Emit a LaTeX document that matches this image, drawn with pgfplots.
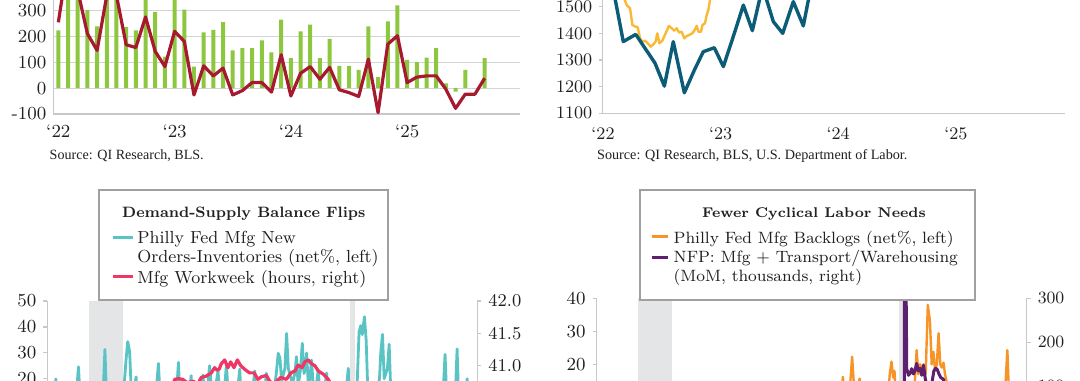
\documentclass[border=0pt]{standalone}
\usepackage{fontspec}
\newfontfamily\srcfont{Liberation Serif}
\usepackage{pgfplots}
\pgfplotsset{compat=1.18}
\definecolor{barg}{RGB}{141,198,63}
\definecolor{dred}{RGB}{166,25,46}
\definecolor{dteal}{RGB}{12,92,120}
\definecolor{cyel}{RGB}{250,185,50}
\definecolor{cturq}{RGB}{90,196,196}
\definecolor{cpink}{RGB}{238,55,100}
\definecolor{corange}{RGB}{247,148,40}
\definecolor{cpurple}{RGB}{94,31,112}
\definecolor{recgray}{RGB}{228,229,231}
\definecolor{axgray}{RGB}{200,200,200}
\definecolor{gridgray}{RGB}{212,212,212}
\definecolor{legb}{RGB}{160,160,160}
\definecolor{txt}{RGB}{35,31,32}
\pgfplotsset{every axis/.append style={
  /pgf/number format/assume math mode=true,
  /pgf/number format/1000 sep={},
  scale only axis, anchor=south west,
  tick label style={text=txt},
}}
\newcommand{\tf}[1]{\fontsize{#1}{#1}\selectfont}
\begin{document}
\begin{tikzpicture}
\useasboundingbox (0pt,0pt) rectangle (540pt,190pt);
\clip (0pt,0pt) rectangle (540pt,190pt);

% ---------- top left: bars + line ----------
\begin{axis}[
  at={(26.65pt,133pt)}, width=233.35pt, height=77.25pt,
  xmin=-0.52, xmax=47.65, ymin=-100, ymax=500,
  axis lines*=left,
  axis line style={axgray, line width=0.7pt},
  ymajorgrids, grid style={gridgray, line width=0.5pt},
  ytick={-100,0,100,200,300},
  xtick={0,12,24,36}, xticklabels={‘22,‘23,‘24,‘25},
  major tick length=0pt,
  tick label style={font=\tf{9.2}},
  xticklabel style={yshift=-1.8pt},
]
\addplot[ybar, bar width=2pt, fill=barg, draw=none] coordinates {
(0,225)(1,450)(2,420)(3,303)(4,240)(5,390)(6,400)(7,238)(8,225)(9,360)(10,296)(11,123)
(12,380)(13,305)(14,84)(15,217)(16,227)(17,257)(18,147)(19,156)(20,156)(21,186)(22,139)(23,266)
(24,117)(25,221)(26,247)(27,117)(28,192)(29,87)(30,87)(31,71)(32,240)(33,43)(34,260)(35,322)
(36,110)(37,101)(38,119)(39,156)(40,19)(41,-13)(42,71)(43,0)(44,117)};
\addplot[dred, line width=1.6pt, line join=round] coordinates {
(0,256)(1,500)(2,380)(3,212)(4,147)(5,360)(6,360)(7,169)(8,158)(9,277)(10,143)(11,84)
(12,221)(13,182)(14,-26)(15,87)(16,48)(17,78)(18,-26)(19,-9)(20,22)(21,22)(22,-15)(23,130)
(24,-30)(25,58)(26,84)(27,35)(28,81)(29,-6)(30,-17)(31,-32)(32,113)(33,-95)(34,171)(35,204)
(36,22)(37,43)(38,48)(39,48)(40,-4)(41,-78)(42,-23)(43,-23)(44,39)};
\end{axis}
\node[anchor=base west, inner sep=0pt, text=txt, font=\srcfont\tf{7.04}] at (24.65pt,110.35pt) {Source: QI Research, BLS.};

% ---------- top right: two lines ----------
\begin{axis}[
  at={(301.15pt,133.35pt)}, width=231.35pt, height=79.95pt,
  xmin=-0.07, xmax=47.14, ymin=1100, ymax=1700,
  axis lines*=left,
  axis line style={axgray, line width=0.7pt},
  ytick={1100,1200,1300,1400,1500},
  xtick={0,12,24,36}, xticklabels={‘22,‘23,‘24,‘25},
  tick align=outside, major tick length=1.5pt,
  ytick style={axgray, line width=0.7pt},
  xtick style={draw=none},
  tick label style={font=\tf{8.8}},
  xticklabel style={yshift=-1.8pt},
]
\addplot[cyel, line width=1.2pt, line join=round] coordinates {
(1.85,1560)(2.42,1506)(2.76,1494)(3.0,1431)(3.33,1425)(3.54,1423)(3.78,1381)(4.01,1369)
(4.29,1372)(4.56,1363)(4.87,1350)(5.14,1359)(5.37,1369)(5.54,1400)(5.75,1363)(6.05,1372)
(6.39,1400)(6.73,1428)(7.01,1419)(7.28,1410)(7.52,1419)(7.76,1403)(8.03,1406)(8.3,1381)
(8.54,1390)(8.81,1394)(9.11,1400)(9.32,1410)(9.56,1428)(9.73,1406)(10.0,1406)(10.14,1431)
(10.41,1438)(10.58,1469)(10.75,1488)(10.92,1525)(11.1,1560)(11.5,1620)};
\addplot[dteal, line width=1.7pt, line join=round] coordinates {
(0,1640)(1.05,1565)(2.07,1369)(3.34,1396)(4.29,1344)(5.31,1288)(6.26,1202)(7.17,1369)
(8.30,1177)(9.32,1262)(10.23,1331)(11.36,1346)(12.28,1275)(13.40,1400)(14.32,1506)(15.24,1410)
(16.28,1575)(17.38,1444)(18.34,1400)(19.42,1519)(20.44,1428)(21.46,1620)(23.5,1640)(25,1670)
(27,1650)(30,1680)(33,1660)(36,1670)(39,1650)(42,1680)(45,1660)};
\end{axis}
\node[anchor=base west, inner sep=0pt, text=txt, font=\srcfont\tf{7.1}] at (298.35pt,110.35pt) {Source: QI Research, BLS, U.S. Department of Labor.};

% ---------- bottom left ----------
\begin{axis}[
  at={(23.65pt,-90pt)}, width=215pt, height=129.5pt,
  xmin=2006, xmax=2026, ymin=-50, ymax=50,
  axis y line*=left, axis x line=none,
  axis line style={axgray, line width=0.7pt},
  ytick={20,30,40,50},
  tick align=outside, major tick length=2pt,
  ytick style={axgray, line width=0.7pt},
  tick label style={font=\tf{9.2}},
]
\fill[recgray] (axis cs:2007.917,-50) rectangle (axis cs:2009.5,50);
\fill[recgray] (axis cs:2020.083,-50) rectangle (axis cs:2020.33,50);
\addplot[cturq, line width=1.4pt, line join=round] coordinates {
(2006.00,12)(2006.17,8)(2006.33,14)(2006.40,19.9)(2006.48,10)(2006.75,5)(2007.0,9)(2007.25,2)
(2007.37,16)(2007.45,24.6)(2007.53,12)(2007.75,3)(2008.0,-12)(2008.25,-4)(2008.5,5)(2008.6,15)
(2008.68,31.3)(2008.75,14)(2008.92,-35)(2009.08,-20)(2009.33,2)(2009.58,18)(2009.66,27)(2009.74,34.3)
(2009.83,30.5)(2009.91,14)(2010.05,17)(2010.13,20.7)(2010.21,8)(2010.5,-2)(2010.75,6)(2011.0,10)
(2011.08,17)(2011.17,25.9)(2011.25,12)(2011.5,-8)(2011.75,0)(2011.92,10)(2012.02,16)(2012.10,26.3)
(2012.18,10)(2012.42,-3)(2012.6,12)(2012.69,21.2)(2012.77,8)(2013.0,5)(2013.16,17)(2013.24,21.4)
(2013.32,13)(2013.47,18)(2013.55,25.0)(2013.63,17)(2013.8,15)(2013.94,23.2)(2014.02,14)(2014.25,17)
(2014.33,25.3)(2014.41,15)(2014.6,12)(2014.87,17)(2014.95,23.7)(2015.03,10)(2015.25,2)(2015.45,10)
(2015.57,17)(2015.65,23)(2015.73,10)(2015.95,5)(2016.11,15)(2016.19,22.1)(2016.27,9)(2016.5,12)
(2016.65,22)(2016.74,29.8)(2016.82,28)(2016.9,19)(2017.05,24)(2017.13,37.5)(2017.21,24)(2017.4,18)
(2017.51,22)(2017.59,28.5)(2017.67,17)(2017.78,24)(2017.86,33.7)(2017.94,22)(2018.02,24)(2018.06,29.9)
(2018.14,18)(2018.21,20)(2018.29,27.2)(2018.37,17)(2018.52,18)(2018.60,23.4)(2018.68,14)(2018.91,17)
(2018.99,22.2)(2019.07,8)(2019.4,-2)(2019.75,5)(2019.92,17)(2020.0,24.0)(2020.08,5)(2020.25,-45)
(2020.42,20)(2020.5,38)(2020.58,40.5)(2020.65,37)(2020.75,43.9)(2020.83,35)(2020.92,12)(2021.1,18)
(2021.25,12)(2021.45,20)(2021.51,30)(2021.59,37.1)(2021.67,20)(2021.82,24)(2021.90,33.3)(2021.98,14)
(2022.3,-10)(2022.7,-20)(2023.1,-15)(2023.5,-5)(2023.9,2)(2024.2,8)(2024.42,16)(2024.5,29.4)
(2024.58,12)(2024.8,-5)(2024.98,14)(2025.06,31.5)(2025.14,10)(2025.3,-10)(2025.45,14)(2025.53,20)
(2025.61,5)(2025.7,-3)};
\end{axis}
\begin{axis}[
  at={(23.65pt,-90pt)}, width=215pt, height=129.5pt,
  xmin=2006, xmax=2026, ymin=38, ymax=42,
  axis y line*=right, axis x line=none,
  axis line style={axgray, line width=0.7pt},
  ytick={41,41.5,42},
  tick align=outside, major tick length=2pt,
  ytick style={axgray, line width=0.7pt},
  tick label style={font=\tf{9}},
  yticklabel style={/pgf/number format/.cd, fixed, fixed zerofill, precision=1},
]
\addplot[cpink, line width=1.6pt, line join=round] coordinates {
(2006.0,40.5)(2006.5,40.6)(2007.0,40.4)(2007.5,40.6)(2008.0,40.4)(2008.5,40.0)(2009.0,39.4)(2009.4,39.2)
(2009.8,39.8)(2010.3,40.3)(2010.8,40.4)(2011.3,40.6)(2011.7,40.5)(2011.92,40.79)(2012.1,40.8)(2012.3,40.79)
(2012.5,40.74)(2012.8,40.76)(2013.0,40.72)(2013.16,40.82)(2013.39,40.84)(2013.63,40.89)(2013.78,40.97)(2013.9,40.93)
(2014.0,40.95)(2014.09,41.03)(2014.25,41.09)(2014.4,40.97)(2014.53,41.06)(2014.68,40.97)(2014.84,41.09)(2015.0,41.0)
(2015.2,40.94)(2015.41,40.89)(2015.62,40.89)(2015.8,40.79)(2015.96,40.83)(2016.19,40.85)(2016.35,40.76)(2016.5,40.72)
(2016.66,40.76)(2016.86,40.82)(2017.12,40.79)(2017.33,40.89)(2017.52,40.92)(2017.67,41.01)(2017.85,40.97)(2017.98,41.06)
(2018.14,41.09)(2018.29,41.03)(2018.45,41.0)(2018.6,40.92)(2018.84,40.87)(2019.07,40.79)(2019.3,40.65)(2019.6,40.6)
(2019.9,40.55)(2020.2,40.4)(2020.3,38.6)(2020.5,40.0)(2020.8,40.5)(2021.2,40.6)(2021.6,40.6)(2022.0,40.6)
(2022.5,40.5)(2023.0,40.3)(2023.5,40.2)(2024.0,40.1)(2024.5,40.2)(2025.0,40.2)(2025.6,40.1)};
\end{axis}

% ---------- bottom right ----------
\begin{axis}[
  at={(298.35pt,-91.15pt)}, width=215pt, height=132pt,
  xmin=2006, xmax=2026, ymin=-40, ymax=40,
  axis y line*=left, axis x line=none,
  axis line style={axgray, line width=0.7pt},
  ytick={20,30,40},
  tick align=outside, major tick length=2pt,
  ytick style={axgray, line width=0.7pt},
  tick label style={font=\tf{9.2}},
]
\fill[recgray] (axis cs:2007.917,-40) rectangle (axis cs:2009.5,40);
\fill[recgray] (axis cs:2020.083,-40) rectangle (axis cs:2020.33,40);
\addplot[corange, line width=1.2pt, line join=round] coordinates {
(2006.0,5)(2006.5,8)(2007.0,-2)(2007.5,3)(2008.0,-10)(2008.5,-15)(2009.0,-35)(2009.5,-20)
(2010.0,2)(2010.5,5)(2011.0,10)(2011.5,-5)(2012.0,3)(2012.5,-10)(2013.0,-5)(2013.5,4)
(2014.0,6)(2014.5,10)(2015.0,5)(2015.5,-2)(2016.0,-10)(2016.5,0)(2016.9,8)(2017.2,12)
(2017.37,10)(2017.45,16.2)(2017.53,9)(2017.7,12)(2017.8,15)(2017.88,22.3)(2017.96,14)(2018.1,12)
(2018.23,15.7)(2018.31,10)(2018.6,8)(2019.0,2)(2019.3,5)(2019.55,10)(2019.63,17)(2019.71,20.8)
(2019.79,16)(2019.85,18)(2019.93,8)(2020.1,3)(2020.25,-30)(2020.5,-5)(2020.7,8)(2020.8,15)
(2020.88,24.3)(2020.96,17)(2021.04,20)(2021.12,18)(2021.2,20)(2021.3,17)(2021.4,38)(2021.5,33)
(2021.58,20)(2021.66,23.8)(2021.74,18)(2021.82,20)(2021.9,29.4)(2021.98,20)(2022.05,19)(2022.13,20.5)
(2022.2,17)(2022.3,14)(2022.4,8)(2022.7,-5)(2023.0,-15)(2023.5,-10)(2024.0,-8)(2024.5,-5)
(2024.9,5)(2025.02,15)(2025.1,24.3)(2025.18,10)(2025.4,-5)(2025.6,0)};
\end{axis}
\begin{axis}[
  at={(298.35pt,-91.15pt)}, width=215pt, height=132pt,
  xmin=2006, xmax=2026, ymin=-300, ymax=300,
  axis y line*=right, axis x line=none,
  axis line style={axgray, line width=0.7pt},
  ytick={100,200,300},
  tick align=outside, major tick length=2pt,
  ytick style={axgray, line width=0.7pt},
  tick label style={font=\tf{8.6}},
]
\addplot[cpurple, line width=1.5pt, line join=round] coordinates {
(2006.0,20)(2006.5,-20)(2007.0,10)(2007.5,-30)(2008.0,-40)(2008.5,-80)(2008.9,-250)(2009.2,-260)
(2009.5,-120)(2009.9,-40)(2010.3,30)(2010.8,20)(2011.3,40)(2011.8,30)(2012.3,30)(2012.8,20)
(2013.3,25)(2013.8,30)(2014.3,40)(2014.8,45)(2015.3,30)(2015.8,20)(2016.3,15)(2016.8,20)
(2017.3,30)(2017.8,45)(2018.3,50)(2018.8,40)(2019.3,20)(2019.8,10)(2020.0,15)(2020.17,-30)
(2020.25,-1200)(2020.33,700)(2020.42,140)(2020.5,125)(2020.58,130)(2020.65,140)(2020.73,128)(2020.8,135)
(2020.88,152)(2020.96,135)(2021.04,141)(2021.12,125)(2021.2,148)(2021.28,118)(2021.36,100)(2021.44,105)
(2021.52,95)(2021.6,110)(2021.68,135)(2021.76,141)(2021.84,138)(2021.92,128)(2022.0,120)(2022.13,116)
(2022.2,95)(2022.3,70)(2022.6,60)(2023.0,30)(2023.5,10)(2024.0,5)(2024.5,-5)(2025.0,0)(2025.6,-10)};
\end{axis}

% ---------- legend boxes ----------
\draw[legb, line width=0.9pt, fill=white] (49.65pt,40pt) rectangle (194.15pt,95pt);
\node[anchor=base, inner sep=0pt, text=txt, font=\fontsize{7.5}{9}\bfseries\selectfont] at (121.9pt,81.35pt) {Demand-Supply Balance Flips};
\draw[cturq, line width=1.5pt] (56.5pt,71.4pt) -- (66.5pt,71.4pt);
\node[anchor=base west, inner sep=0pt, text=txt, font=\tf{8.75}] at (68.5pt,68.35pt) {Philly Fed Mfg New};
\node[anchor=base west, inner sep=0pt, text=txt, font=\tf{8.75}] at (68.5pt,58.65pt) {Orders-Inventories (net\%, left)};
\draw[cpink, line width=1.5pt] (56.5pt,51.5pt) -- (66.5pt,51.5pt);
\node[anchor=base west, inner sep=0pt, text=txt, font=\tf{8.75}] at (68.5pt,48.5pt) {Mfg Workweek (hours, right)};

\draw[legb, line width=0.9pt, fill=white] (320pt,40pt) rectangle (487.5pt,95pt);
\node[anchor=base, inner sep=0pt, text=txt, font=\fontsize{7.05}{9}\bfseries\selectfont] at (407pt,81.35pt) {Fewer Cyclical Labor Needs};
\draw[corange, line width=1.5pt] (325.85pt,71.65pt) -- (334.15pt,71.65pt);
\node[anchor=base west, inner sep=0pt, text=txt, font=\tf{8.2}] at (336.65pt,68.35pt) {Philly Fed Mfg Backlogs (net\%, left)};
\draw[cpurple, line width=1.5pt] (325.85pt,61.35pt) -- (334.15pt,61.35pt);
\node[anchor=base west, inner sep=0pt, text=txt, font=\tf{8.2}] at (336.65pt,58.65pt) {NFP: Mfg + Transport/Warehousing};
\node[anchor=base west, inner sep=0pt, text=txt, font=\tf{8.2}] at (336.65pt,49pt) {(MoM, thousands, right)};
\end{tikzpicture}
\end{document}
